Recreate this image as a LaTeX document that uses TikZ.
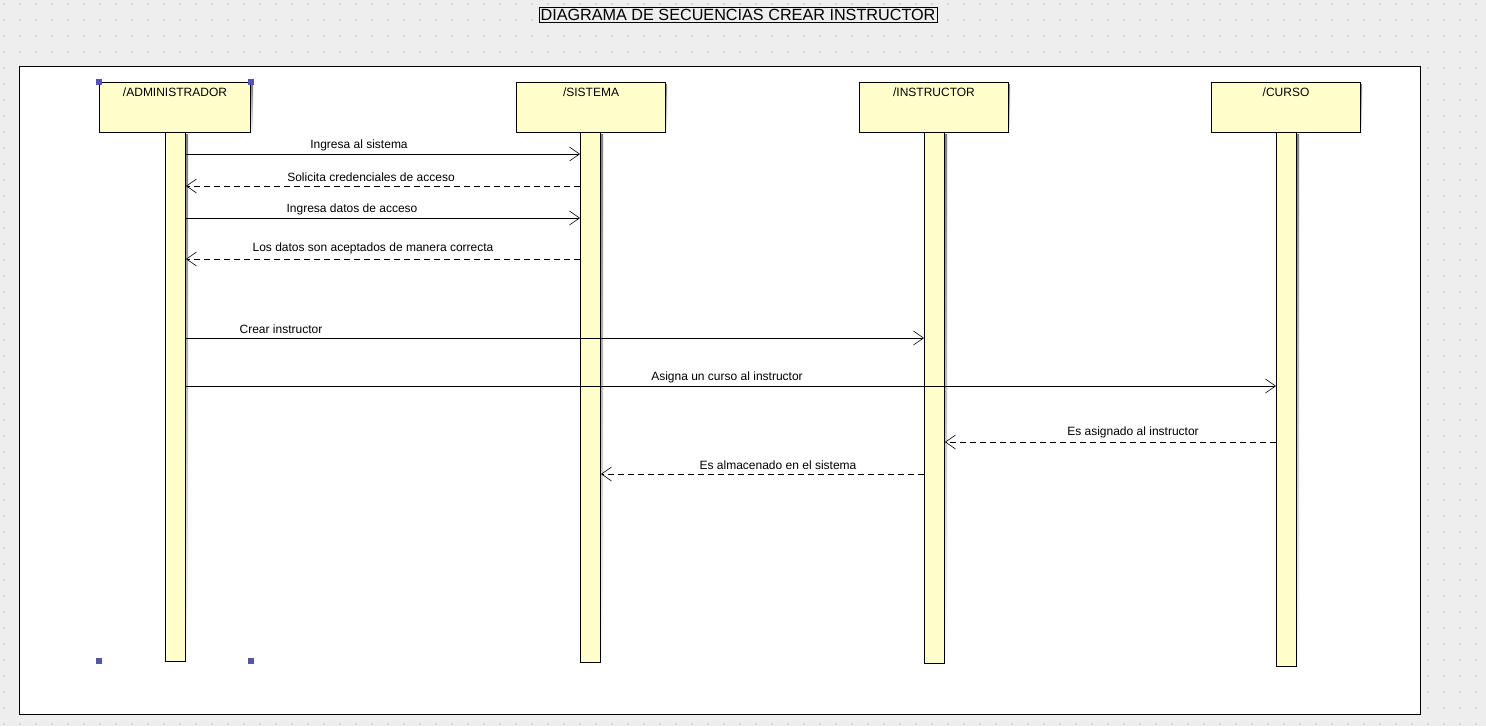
\documentclass[tikz,border=0pt]{standalone}
\usepackage{fontspec}
\setmainfont{Liberation Sans}
\usetikzlibrary{arrows.meta}
\definecolor{canvas}{HTML}{EEEEEE}
\definecolor{griddot}{HTML}{D6D6D6}
\definecolor{lifefill}{HTML}{FFFFCC}
\definecolor{handle}{HTML}{5555AA}
\definecolor{shade}{HTML}{C8C8C8}
\tikzset{
  head/.style={draw=black, line width=1pt, fill=lifefill, minimum width=149pt, minimum height=50pt,
    anchor=north west, inner sep=0pt},
  bar/.style={draw=black, line width=1pt, fill=lifefill, anchor=north west, minimum width=20pt, inner sep=0pt},
  msg/.style={line width=0.8pt, -{Straight Barb[length=10pt,width=14pt,line width=0.6pt]}},
  reply/.style={msg, dash pattern=on 6pt off 4pt},
  lbl/.style={font=\fontsize{12}{14}\selectfont, inner sep=0pt},
  grip/.style={fill=handle, minimum size=6pt, inner sep=0pt},
}
\begin{document}
\begin{tikzpicture}[x=1pt,y=-1pt]
  % canvas and dotted grid
  \fill[canvas] (0,0) rectangle (1486,726);
  \useasboundingbox (0,0) rectangle (1486,726);
  \foreach \gx in {4,20,...,1484} {
    \foreach \gy in {4,20,...,724} {
      \fill[griddot] (\gx-1,\gy-1) rectangle (\gx+1,\gy+1);
    }
  }
  % title
  \node[draw=black, line width=0.8pt, fill=canvas, inner xsep=1.5pt, inner ysep=1.8pt,
        font=\fontsize{16.2}{18}\selectfont] (title) at (738,14.5) {DIAGRAMA DE SECUENCIAS CREAR INSTRUCTOR};
  % frame
  \draw[line width=1pt, fill=white] (19,66) rectangle (1420,714);

  % lifeline heads (with shadow)
  \fill[shade] (101,84) rectangle (253,134);
  \foreach \hx in {516,859,1211} {
    \fill[shade] (\hx+2,84) rectangle (\hx+151,134);
  }
  \node[head, minimum width=151pt] (adm) at (99,82) {};
  \node[head] (sis) at (516,82) {};
  \node[head] (ins) at (859,82) {};
  \node[head] (cur) at (1211,82) {};
  \node[lbl, anchor=base] (admT) at ([yshift=-14pt]adm.north) {/ADMINISTRADOR};
  \node[lbl, anchor=base] (sisT) at ([yshift=-14pt]sis.north) {/SISTEMA};
  \node[lbl, anchor=base] (insT) at ([yshift=-14pt]ins.north) {/INSTRUCTOR};
  \node[lbl, anchor=base] (curT) at ([yshift=-14pt]cur.north) {/CURSO};

  % activation bars (with shadow)
  \fill[shade] (167,134) rectangle (188,663);
  \fill[shade] (582,134) rectangle (603,664);
  \fill[shade] (926,134) rectangle (947,665);
  \fill[shade] (1278,134) rectangle (1299,668);
  \node[bar, minimum height=529pt] (admB) at (165,132) {};
  \node[bar, minimum height=530pt] (sisB) at (580,132) {};
  \node[bar, minimum height=531pt] (insB) at (924,132) {};
  \node[bar, minimum height=534pt] (curB) at (1276,132) {};

  % message rows
  \coordinate (r1) at (0,154);
  \coordinate (r2) at (0,186);
  \coordinate (r3) at (0,218);
  \coordinate (r4) at (0,259);
  \coordinate (r5) at (0,338);
  \coordinate (r6) at (0,386);
  \coordinate (r7) at (0,442);
  \coordinate (r8) at (0,474);

  % messages
  \draw[msg] (admB.east |- r1) -- (sisB.west |- r1);
  \node[lbl] (l1) at (359,145) {Ingresa al sistema};
  \draw[reply] (sisB.west |- r2) -- (admB.east |- r2);
  \node[lbl] (l2) at (371,177) {Solicita credenciales de acceso};
  \draw[msg] (admB.east |- r3) -- (sisB.west |- r3);
  \node[lbl] (l3) at (352,209) {Ingresa datos de acceso};
  \draw[reply] (sisB.west |- r4) -- (admB.east |- r4);
  \node[lbl] (l4) at (373,248) {Los datos son aceptados de manera correcta};
  \draw[msg] (admB.east |- r5) -- (insB.west |- r5);
  \node[lbl] (l5) at (281,329) {Crear instructor};
  \draw[msg] (admB.east |- r6) -- (curB.west |- r6);
  \node[lbl] (l6) at (727,377) {Asigna un curso al instructor};
  \draw[reply] (curB.west |- r7) -- (insB.east |- r7);
  \node[lbl] (l7) at (1133,432) {Es asignado al instructor};
  \draw[reply] (insB.west |- r8) -- (sisB.east |- r8);
  \node[lbl] (l8) at (778,465) {Es almacenado en el sistema};

  % selection handles
  \node[grip] (g1) at (99,82) {};
  \node[grip] (g2) at (251,82) {};
  \node[grip] (g3) at (99,661) {};
  \node[grip] (g4) at (251,661) {};
\end{tikzpicture}
\end{document}
